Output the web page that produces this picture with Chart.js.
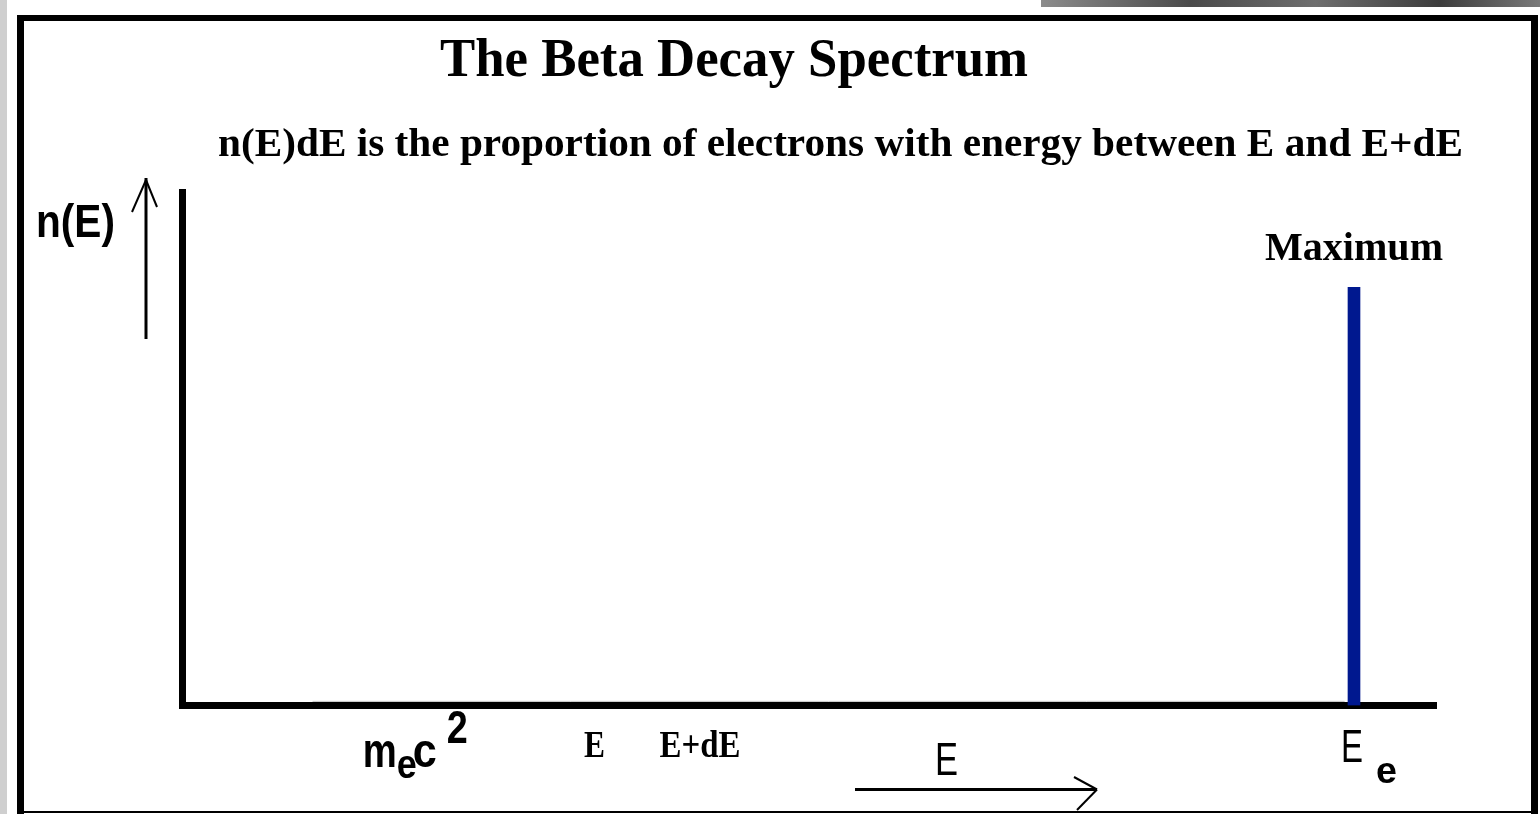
<!DOCTYPE html>
<html>
<head>
<meta charset="utf-8">
<title>The Beta Decay Spectrum</title>
<script src="https://cdn.jsdelivr.net/npm/chart.js@4/dist/chart.umd.min.js"></script>
<style>
  body { margin: 0; background: #fff; }
  #wrap { width: 1540px; height: 814px; }
</style>
</head>
<body>
<div id="wrap"><canvas id="betaChart" width="1540" height="814"></canvas></div>
<script>
// energy axis, in units of the endpoint energy E_e
const energyMax = 1.07;
const countMax = 1.0;

// the single line of the (naive) spectrum: every electron at E_e
const lineEnergy = [1.0];
const lineCount = [0.815];

// faint base line of the spectrum along the axis
const baseEnergy = [0.111, 0.992];
const baseCount = [0.008, 0.008];

// energies marked under the axis
const markEnergy = [0.2, 0.35, 0.44, 1.0];
const markLabels = ['m_ec^2', 'E', 'E+dE', 'E_e'];

const titleText = 'The Beta Decay Spectrum';
const subtitleText = 'n(E)dE is the proportion of electrons with energy between E and E+dE';
const yLabel = 'n(E)';
const xLabel = 'E';
const peakLabel = 'Maximum';

// draw text squeezed/stretched to a given width
function fitText(ctx, text, x, y, font, width, align) {
  ctx.save();
  ctx.font = font;
  ctx.textBaseline = 'alphabetic';
  ctx.textAlign = 'left';
  const w = ctx.measureText(text).width;
  const sx = width / w;
  let left = x;
  if (align === 'center') left = x - width / 2;
  ctx.translate(left, y);
  ctx.scale(sx, 1);
  ctx.fillText(text, 0, 0);
  ctx.restore();
}

function line(ctx, x1, y1, x2, y2, lw) {
  ctx.beginPath();
  ctx.lineWidth = lw;
  ctx.moveTo(x1, y1);
  ctx.lineTo(x2, y2);
  ctx.stroke();
}

// split "m_ec^2" into runs: base, _sub, ^sup
function splitRuns(label) {
  const runs = [];
  let i = 0;
  while (i < label.length) {
    const c = label[i];
    if (c === '_' || c === '^') {
      runs.push({ kind: c === '_' ? 'sub' : 'sup', text: label[i + 1] });
      i += 2;
    } else {
      runs.push({ kind: 'base', text: c });
      i += 1;
    }
  }
  return runs;
}

const frame = {
  id: 'frame',
  beforeDraw(chart) {
    const ctx = chart.ctx;
    ctx.save();
    ctx.fillStyle = '#ffffff';
    ctx.fillRect(0, 0, chart.width, chart.height);
    // grey strip on the left edge
    ctx.fillStyle = '#cfcfcf';
    ctx.fillRect(0, 0, 7, chart.height);
    // dark strip along the top right
    const g = ctx.createLinearGradient(1041, 0, 1540, 0);
    g.addColorStop(0, '#8c8c8c');
    g.addColorStop(0.3, '#4a4a4a');
    g.addColorStop(0.55, '#6e6e6e');
    g.addColorStop(0.8, '#3c3c3c');
    g.addColorStop(1, '#7a7a7a');
    ctx.fillStyle = g;
    ctx.fillRect(1041, 0, 499, 7);
    // black box
    ctx.fillStyle = '#000';
    ctx.fillRect(17, 15, 1521, 6);
    ctx.fillRect(17, 15, 7, chart.height - 15);
    ctx.fillRect(1531, 15, 7, chart.height - 15);
    ctx.fillRect(17, 811, 1521, 2);
    ctx.restore();
  },
  afterDraw(chart) {
    const ctx = chart.ctx;
    const xs = chart.scales.x;
    ctx.save();
    ctx.fillStyle = '#000';
    ctx.strokeStyle = '#000';

    fitText(ctx, titleText, 440, 76, 'bold 54px "Liberation Serif"', 588);
    fitText(ctx, subtitleText, 218, 156, 'bold 40px "Liberation Serif"', 1245);

    // label above the line at E_e
    const bar = chart.getDatasetMeta(0).data[0];
    fitText(ctx, peakLabel, bar.x, bar.y - 27, 'bold 40px "Liberation Serif"', 178, 'center');

    // y label with its upward arrow
    fitText(ctx, yLabel, 36, 237, 'bold 47px "Liberation Sans"', 79);
    line(ctx, 146, 178, 146, 339, 3);
    line(ctx, 146, 180, 132, 212, 2);
    line(ctx, 146, 180, 157, 207, 2);

    // x label with its arrow
    fitText(ctx, xLabel, 935, 775, '46px "Liberation Sans"', 23);
    line(ctx, 855, 789.5, 1097, 789.5, 3);
    line(ctx, 1097, 789.5, 1074, 777, 2);
    line(ctx, 1097, 789.5, 1077, 810, 2);

    // energy marks under the axis
    markLabels.forEach((lab, i) => {
      const px = xs.getPixelForValue(markEnergy[i]);
      const runs = splitRuns(lab);
      if (runs.length === 1 || runs.every(r => r.kind === 'base')) {
        const w = lab.length === 1 ? 21 : 81;
        fitText(ctx, lab, px + 2, 757, 'bold 38px "Liberation Serif"', w, 'center');
        return;
      }
      if (lab.startsWith('m')) {
        // m_e c^2
        fitText(ctx, runs[0].text, px - 54, 767, 'bold 48px "Liberation Sans"', 34);
        fitText(ctx, runs[1].text, px - 20, 778, 'bold 40px "Liberation Sans"', 20);
        fitText(ctx, runs[2].text, px - 4, 767, 'bold 48px "Liberation Sans"', 24);
        fitText(ctx, runs[3].text, px + 30, 743, 'bold 46px "Liberation Sans"', 21);
      } else {
        // E_e
        fitText(ctx, runs[0].text, px - 13, 762, '46px "Liberation Sans"', 22);
        fitText(ctx, runs[1].text, px + 22, 783, 'bold 37px "Liberation Sans"', 21);
      }
    });
    ctx.restore();
  }
};

const ctx = document.getElementById('betaChart').getContext('2d');

const chart = new Chart(ctx, {
  type: 'bar',
  data: {
    datasets: [
      {
        label: 'n(E)',
        data: lineEnergy.map((e, i) => ({ x: e, y: lineCount[i] })),
        backgroundColor: '#00188f',
        borderWidth: 0,
        barThickness: 12,
        order: 1
      },
      {
        type: 'line',
        label: 'base',
        data: baseEnergy.map((e, i) => ({ x: e, y: baseCount[i] })),
        borderColor: '#c4c4c4',
        borderWidth: 1,
        pointRadius: 0,
        order: 2
      }
    ]
  },
  options: {
    responsive: false,
    animation: false,
    events: [],
    layout: {
      padding: { left: 182.5, right: 104, top: 192.5, bottom: 108.5 }
    },
    plugins: {
      legend: { display: false },
      tooltip: { enabled: false },
      title: { display: false }
    },
    scales: {
      x: {
        type: 'linear',
        min: 0,
        max: energyMax,
        offset: false,
        grid: { display: false, drawTicks: false },
        ticks: { display: false },
        border: { display: true, color: '#000', width: 7 }
      },
      y: {
        type: 'linear',
        min: 0,
        max: countMax,
        grid: { display: false, drawTicks: false },
        ticks: { display: false },
        border: { display: true, color: '#000', width: 7 }
      }
    }
  },
  plugins: [frame]
});
</script>
</body>
</html>
